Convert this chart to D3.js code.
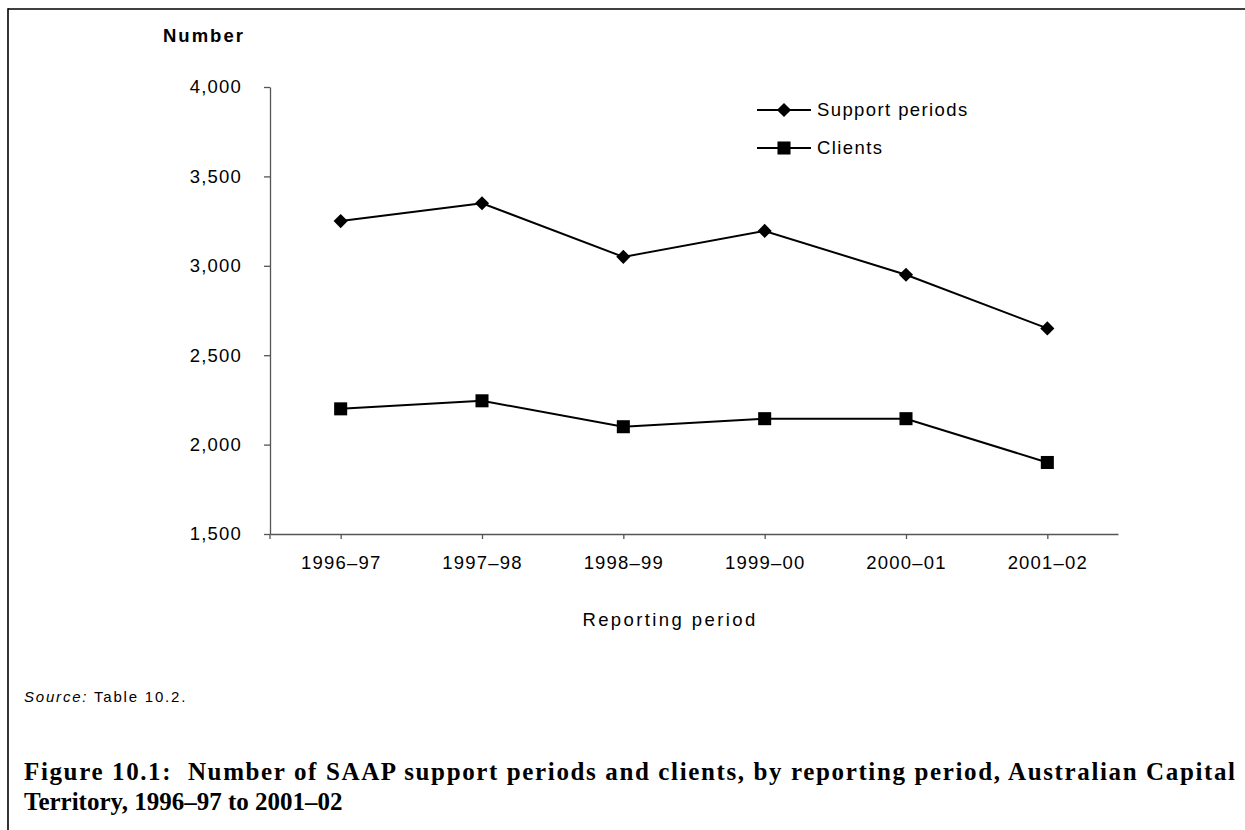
<!DOCTYPE html>
<meta charset="utf-8">

<style type="text/css">
	html, body {
		margin: 0;
		overflow: hidden;
		background: #fff;
	}
	svg {
		display: block;
		font-family: "Liberation Sans", Arial, sans-serif;
	}
	.frame {
		fill: none;
		stroke: #000;
		stroke-width: 1.6px;
	}
	.axis path,
	.axis line {
		stroke: #555;
		stroke-width: 1.3px;
	}
	.axis text {
		font-family: "Liberation Sans", Arial, sans-serif;
		font-size: 18.5px;
		letter-spacing: 1.2px;
		fill: #000;
	}
	.series-line {
		fill: none;
		stroke: #000;
		stroke-width: 2px;
	}
	.marker {
		fill: #000;
	}
	.label {
		font-size: 18.5px;
		letter-spacing: 1.4px;
	}
	.title {
		font-family: "Liberation Serif", "Times New Roman", serif;
		font-weight: bold;
		font-size: 25px;
	}
</style>

<body>
</body>

<script src="https://d3js.org/d3.v7.min.js"></script>

<script>

	// data
	var periods = ["1996\u201397", "1997\u201398", "1998\u201399", "1999\u201300", "2000\u201301", "2001\u201302"];
	var supportPeriods = [3250, 3350, 3050, 3195, 2950, 2650];
	var clients = [2200, 2245, 2100, 2145, 2145, 1900];
	var yTicks = [1500, 2000, 2500, 3000, 3500, 4000];

	var W = 1245, H = 830;
	var plot = {left: 270, right: 1118, top: 87, bottom: 534};

	var svg = d3.select("body").append("svg")
		.attr("width", W)
		.attr("height", H);

	// page frame: only the top and left edges fall inside the picture
	svg.append("line")
		.attr("class", "frame")
		.attr("x1", 8).attr("y1", 9)
		.attr("x2", W).attr("y2", 9);
	svg.append("line")
		.attr("class", "frame")
		.attr("x1", 8).attr("y1", 8.2)
		.attr("x2", 8).attr("y2", H);

	var xScale = d3.scalePoint()
		.domain(periods)
		.range([plot.left, plot.right])
		.padding(0.5);

	var yScale = d3.scaleLinear()
		.domain([1500, 4000])
		.range([plot.bottom, plot.top]);

	var x_axis = d3.axisBottom(xScale)
		.tickSize(5)
		.tickSizeOuter(0)
		.tickPadding(17);

	var y_axis = d3.axisLeft(yScale)
		.tickValues(yTicks)
		.tickFormat(d3.format(","))
		.tickSize(6)
		.tickSizeOuter(0)
		.tickPadding(22);

	var gx = svg.append("g")
		.attr("class", "x axis")
		.attr("transform", "translate(0," + plot.bottom + ")")
		.call(x_axis);

	// small tick at the origin as in the reference
	gx.append("line")
		.attr("x1", plot.left).attr("x2", plot.left)
		.attr("y1", 0).attr("y2", 5);

	svg.append("g")
		.attr("class", "y axis")
		.attr("transform", "translate(" + plot.left + ",0)")
		.call(y_axis);

	// axis titles
	svg.append("text")
		.attr("x", 163)
		.attr("y", 42)
		.style("font-weight", "bold")
		.style("font-size", "18.5px")
		.style("letter-spacing", "2px")
		.text("Number");

	svg.append("text")
		.attr("class", "label")
		.attr("x", 670)
		.attr("y", 626)
		.attr("text-anchor", "middle")
		.style("letter-spacing", "2.4px")
		.text("Reporting period");

	var line = d3.line()
		.x(function(d, i) { return xScale(periods[i]); })
		.y(function(d) { return yScale(d); });

	var diamond = d3.symbol().type(d3.symbolSquare).size(100);
	var square = d3.symbol().type(d3.symbolSquare).size(170);

	// support periods
	svg.append("path")
		.datum(supportPeriods)
		.attr("class", "series-line")
		.attr("d", line);

	svg.selectAll(".sp-marker")
		.data(supportPeriods)
		.enter()
		.append("path")
		.attr("class", "marker sp-marker")
		.attr("d", diamond)
		.attr("transform", function(d, i) {
			return "translate(" + xScale(periods[i]) + "," + yScale(d) + ") rotate(45)";
		});

	// clients
	svg.append("path")
		.datum(clients)
		.attr("class", "series-line")
		.attr("d", line);

	svg.selectAll(".cl-marker")
		.data(clients)
		.enter()
		.append("path")
		.attr("class", "marker cl-marker")
		.attr("d", square)
		.attr("transform", function(d, i) {
			return "translate(" + xScale(periods[i]) + "," + yScale(d) + ")";
		});

	// legend
	var legend = [
		{name: "Support periods", shape: diamond, rot: 45, y: 110},
		{name: "Clients", shape: square, rot: 0, y: 148}
	];

	var lg = svg.selectAll(".legend")
		.data(legend)
		.enter()
		.append("g")
		.attr("class", "legend")
		.attr("transform", function(d) { return "translate(757," + d.y + ")"; });

	lg.append("line")
		.attr("x1", 0).attr("x2", 54)
		.attr("stroke", "#000")
		.attr("stroke-width", 2);

	lg.append("path")
		.attr("class", "marker")
		.attr("d", function(d) { return d.shape(); })
		.attr("transform", function(d) { return "translate(27,0) rotate(" + d.rot + ")"; });

	lg.append("text")
		.attr("class", "label")
		.attr("x", 60)
		.attr("dy", "0.35em")
		.text(function(d) { return d.name; });

	// source note
	var src = svg.append("text")
		.attr("x", 24)
		.attr("y", 702)
		.style("font-size", "15px")
		.style("letter-spacing", "1.8px");
	src.append("tspan").style("font-style", "italic").text("Source:");
	src.append("tspan").text(" Table 10.2.");

	// caption; first line is justified to the full width like the original
	var caption = [
		"Figure 10.1:  Number of SAAP support periods and clients, by reporting period, Australian Capital",
		"Territory, 1996\u201397 to 2001\u201302"
	];

	svg.selectAll(".title")
		.data(caption)
		.enter()
		.append("text")
		.attr("class", "title")
		.attr("x", 24)
		.attr("y", function(d, i) { return 780 + i * 30; })
		.attr("textLength", function(d, i) { return i === 0 ? 1211 : null; })
		.attr("lengthAdjust", "spacing")
		.style("white-space", "pre")
		.text(function(d) { return d; });

</script>
